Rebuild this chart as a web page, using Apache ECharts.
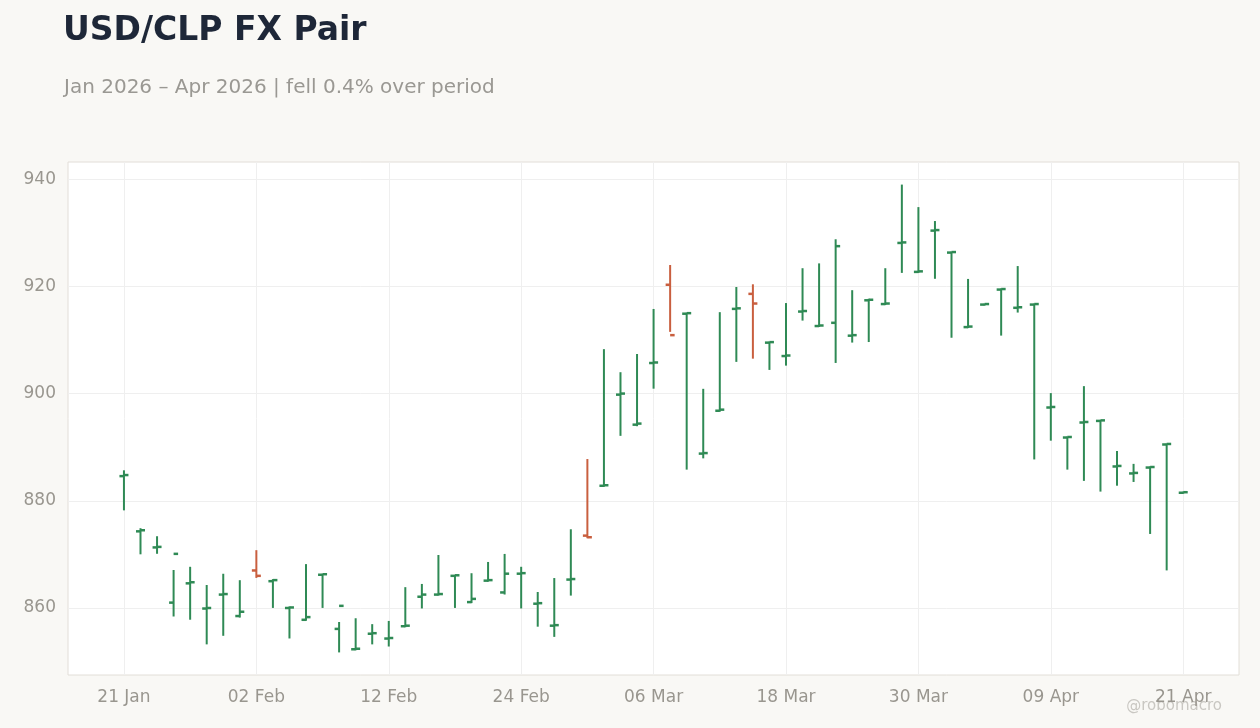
<!DOCTYPE html>
<html><head><meta charset="utf-8">
<script src="https://cdn.jsdelivr.net/npm/echarts@6/dist/echarts.min.js"></script>
<style>html,body{margin:0;padding:0;background:#f9f8f5;}#c{width:1260px;height:728px;}</style>
</head><body><div id="c"></div>
<script>
const opens  = [884.6,874.3,871.3,861.0,864.6,859.9,862.5,858.5,867.0,865.0,860.0,857.8,866.2,856.1,852.3,855.2,854.3,856.6,862.1,862.5,866.0,861.1,865.1,862.9,866.4,860.8,856.7,865.3,873.5,882.8,899.8,894.2,905.7,920.3,914.9,888.8,896.8,915.8,918.6,909.5,907.0,915.3,912.6,913.2,910.8,917.4,916.7,928.1,922.7,930.4,926.3,912.4,916.6,919.4,916.0,916.6,897.4,891.8,894.6,894.9,886.4,885.1,886.2,890.5,881.5];
const highs  = [885.5,874.7,873.2,866.9,867.5,864.1,866.2,865.0,870.6,865.2,860.1,868.0,866.2,857.2,857.9,856.8,857.4,863.7,864.3,869.7,866.0,866.3,868.4,869.9,867.5,862.8,865.4,874.5,887.6,908.1,903.8,907.2,915.6,923.8,914.9,900.7,915.0,919.7,920.2,909.5,916.7,923.2,924.1,928.6,919.1,917.5,923.2,938.8,934.6,932.0,926.3,921.2,916.6,919.4,923.6,916.6,899.9,891.8,901.2,894.9,889.1,886.7,886.2,890.5,881.5];
const lows   = [878.4,870.2,870.3,858.6,858.0,853.4,855.0,858.4,865.8,860.2,854.5,857.8,860.2,851.9,852.3,853.4,853.0,856.6,860.1,862.5,860.2,861.1,865.1,862.7,860.1,856.7,854.8,862.5,873.2,882.8,892.3,894.1,901.1,911.7,886.0,888.1,896.8,906.1,906.7,904.6,905.4,913.8,912.6,905.9,909.7,909.8,916.7,922.7,922.7,921.6,910.6,912.4,916.6,911.0,915.3,887.9,891.4,886.0,883.9,881.9,883.0,883.7,874.0,867.2,881.5];
const closes = [884.8,874.5,871.4,870.1,864.8,860.0,862.6,859.3,866.0,865.2,860.1,858.3,866.3,860.4,852.4,855.3,854.4,856.7,862.5,862.6,866.1,861.7,865.2,866.4,866.5,860.9,856.8,865.4,873.2,882.9,900.0,894.4,905.8,910.9,915.0,888.9,897.0,915.9,916.8,909.6,907.1,915.4,912.7,927.5,910.9,917.5,916.8,928.2,922.8,930.5,926.4,912.5,916.7,919.5,916.1,916.7,897.5,891.9,894.7,895.0,886.5,885.2,886.3,890.6,881.6];
const tickIdx = [0,8,16,24,32,40,48,56,64];
const tickLabels = ['21 Jan','02 Feb','12 Feb','24 Feb','06 Mar','18 Mar','30 Mar','09 Apr','21 Apr'];
const yTicks = [860,880,900,920,940];

const data = opens.map((o,i)=>[i,o,closes[i],lows[i],highs[i]]);
const GREEN='#2f8a55', RED='#c95f3f';
const FONT='DejaVu Sans';
const chart = echarts.init(document.getElementById('c'));
chart.setOption({
  backgroundColor:'#f9f8f5',
  title:[{text:'USD/CLP FX Pair',left:58,top:10,textStyle:{fontFamily:FONT,fontSize:33,fontWeight:'bold',color:'#1e2738'}},
         {text:'Jan 2026 – Apr 2026 | fell 0.4% over period',left:59,top:73,textStyle:{fontFamily:FONT,fontSize:20,fontWeight:'normal',color:'#9a9893'}}],
  graphic:[{type:'text',right:38,bottom:14,style:{text:'@robomacro',fill:'#c9c7c2',fontFamily:FONT,fontSize:15}}],
  grid:{left:68,right:21,top:162,bottom:53,show:true,backgroundColor:'#ffffff',borderColor:'#e2ded8',borderWidth:1},
  xAxis:{type:'value',min:-3.38,max:67.37,
    axisLine:{show:false},
    splitLine:{show:true,lineStyle:{color:'#efefef'}},
    axisLabel:{customValues:tickIdx,formatter:v=>tickLabels[tickIdx.indexOf(Math.round(v))]||'',color:'#99968f',fontFamily:FONT,fontSize:17,margin:14},
    axisTick:{show:false,customValues:tickIdx}},
  yAxis:{type:'value',min:847.5,max:943.2,
    axisLine:{show:false},axisTick:{show:false,customValues:yTicks},
    splitLine:{show:true,lineStyle:{color:'#efefef'}},
    axisLabel:{customValues:yTicks,color:'#99968f',fontFamily:FONT,fontSize:17,margin:12}},
  series:[{type:'custom',data:data,encode:{x:0,y:[1,2,3,4]},
    renderItem:function(params,api){
      const x=api.value(0);
      const o=api.coord([x,api.value(1)]), c=api.coord([x,api.value(2)]);
      const l=api.coord([x,api.value(3)]), h=api.coord([x,api.value(4)]);
      const col = api.value(2) < api.value(1) ? RED : GREEN;
      const st={stroke:col,lineWidth:2};
      const tk={stroke:col,lineWidth:2.5};
      return {type:'group',children:[
        {type:'line',shape:{x1:o[0],y1:h[1]-1,x2:o[0],y2:l[1]+1},style:st},
        {type:'line',shape:{x1:o[0]-4.5,y1:o[1],x2:o[0],y2:o[1]},style:tk},
        {type:'line',shape:{x1:o[0],y1:c[1],x2:o[0]+4.5,y2:c[1]},style:tk}
      ]};
    }}]
});
</script></body></html>
